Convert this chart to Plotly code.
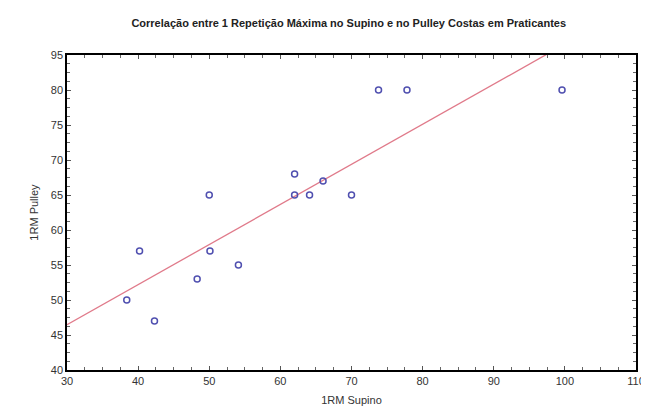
import numpy as np
import plotly.graph_objects as go

supino = [38.4, 40.2, 42.3, 48.3, 50, 50.1, 54.1, 62, 62, 64.1, 66, 70, 73.8, 77.8, 99.6]
pulley = [50, 57, 47, 53, 65, 57, 55, 68, 65, 65, 67, 65, 80, 80, 80]
x_ticks = [30, 40, 50, 60, 70, 80, 90, 100, 110]
y_ticks = [40, 45, 50, 55, 60, 65, 70, 75, 80, 85]
y_ticktext = ["40", "45", "50", "55", "60", "65", "70", "75", "80", "95"]

slope, intercept = np.polyfit(supino, pulley, 1)
line_x = np.linspace(30, 110, 200)
line_y = slope * line_x + intercept

fig = go.Figure()
fig.add_trace(go.Scatter(x=line_x, y=line_y, mode="lines",
                         line=dict(color="#e07a8a", width=1.3), hoverinfo="skip"))
fig.add_trace(go.Scatter(x=supino, y=pulley, mode="markers",
                         marker=dict(symbol="circle-open", size=6, color="#5050b0",
                                     line=dict(width=1.5))))

tick_font = dict(family="Arial, Liberation Sans", size=11, color="#333")
title_font = dict(family="Arial, Liberation Sans", size=11, color="#333")
axis_common = dict(showline=True, linecolor="black", linewidth=1.5, mirror="ticks",
                   ticks="inside", ticklen=4, tickcolor="#555", showgrid=False,
                   zeroline=False, tickfont=tick_font)

fig.update_layout(
    width=649, height=410,
    margin=dict(l=59, r=13, t=47, b=48),
    paper_bgcolor="white", plot_bgcolor="white",
    showlegend=False,
    title=dict(text="<b>Correlação entre 1 Repetição Máxima no Supino e no Pulley Costas em Praticantes</b>",
               x=0.525, xanchor="center", y=0.963, yanchor="middle",
               font=dict(family="Arial, Liberation Sans", size=11, color="#222")),
    xaxis=dict(range=[30, 110], tickvals=x_ticks,
               minor=dict(ticks="inside", ticklen=3, dtick=2.5, tickcolor="#666"),
               title=dict(text="1RM Supino", standoff=10, font=title_font),
               **axis_common),
    yaxis=dict(range=[40, 85], tickvals=y_ticks, ticktext=y_ticktext,
               minor=dict(ticks="inside", ticklen=3, dtick=1.25, tickcolor="#666"),
               title=dict(text="1RM Pulley", standoff=10, font=title_font),
               **axis_common),
)

fig.write_html("out.html")
